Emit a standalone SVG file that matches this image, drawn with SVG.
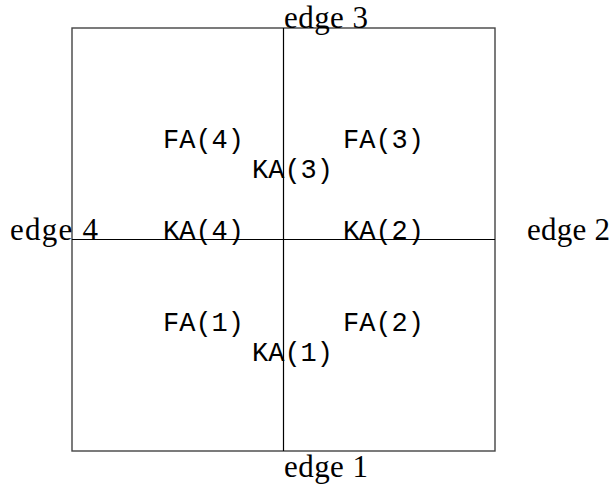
<svg xmlns="http://www.w3.org/2000/svg" width="613" height="489" viewBox="0 0 613 489">
<style>
.edge{font-family:"Liberation Serif","DejaVu Serif",serif;font-size:31px;fill:#000}
.lab{font-family:"Liberation Mono","DejaVu Sans Mono",monospace;font-size:27px;fill:#000}
.border{fill:none;stroke:#444;stroke-width:1.4}
.inner{stroke:#000;stroke-width:1.2}
</style>
<rect width="613" height="489" fill="#fff"/>
<g id="connectors">
<rect class="border" x="72" y="28" width="423" height="423"/>
<line class="inner" x1="283.5" y1="28" x2="283.5" y2="451"/>
<line class="inner" x1="72" y1="239.5" x2="495" y2="239.5"/>
</g>
<g id="edge3"><text class="edge" x="284" y="28" textLength="84">edge 3</text></g>
<g id="edge1"><text class="edge" x="284" y="477" textLength="84">edge 1</text></g>
<g id="edge4"><text class="edge" x="10" y="240" textLength="88">edge 4</text></g>
<g id="edge2"><text class="edge" x="527" y="240" textLength="83">edge 2</text></g>
<g id="FA4"><text class="lab" x="163" y="148">FA(4)</text></g>
<g id="FA3"><text class="lab" x="343" y="148">FA(3)</text></g>
<g id="KA3"><text class="lab" x="252" y="178">KA(3)</text></g>
<g id="KA4"><text class="lab" x="163" y="239">KA(4)</text></g>
<g id="KA2"><text class="lab" x="343" y="239">KA(2)</text></g>
<g id="FA1"><text class="lab" x="163" y="331">FA(1)</text></g>
<g id="FA2"><text class="lab" x="343" y="331">FA(2)</text></g>
<g id="KA1"><text class="lab" x="252" y="361">KA(1)</text></g>
</svg>
